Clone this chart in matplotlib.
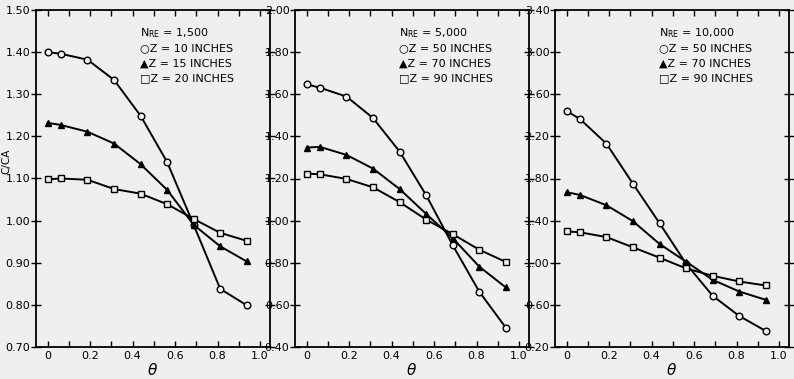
import numpy as np
import matplotlib
matplotlib.use('Agg')
import matplotlib.pyplot as plt

# Dimensionless angle positions of the measurements.
theta = [0, 0.0625, 0.1875, 0.3125, 0.4375, 0.5625, 0.6875, 0.8125, 0.9375]

# N_RE = 1,500
re1500_z10 = [1.400, 1.396, 1.382, 1.334, 1.249, 1.139, 0.990, 0.838, 0.799]
re1500_z15 = [1.232, 1.227, 1.211, 1.183, 1.134, 1.073, 0.990, 0.939, 0.903]
re1500_z20 = [1.098, 1.100, 1.097, 1.075, 1.064, 1.039, 1.004, 0.971, 0.952]

# N_RE = 5,000
re5000_z50 = [1.647, 1.631, 1.589, 1.487, 1.328, 1.121, 0.884, 0.663, 0.492]
re5000_z70 = [1.347, 1.350, 1.312, 1.247, 1.150, 1.032, 0.917, 0.782, 0.683]
re5000_z90 = [1.223, 1.220, 1.198, 1.158, 1.088, 1.005, 0.936, 0.862, 0.804]

# N_RE = 10,000
re10000_z50 = [2.441, 2.365, 2.130, 1.749, 1.375, 0.990, 0.686, 0.495, 0.352]
re10000_z70 = [1.670, 1.644, 1.546, 1.394, 1.178, 1.010, 0.838, 0.727, 0.648]
re10000_z90 = [1.298, 1.289, 1.244, 1.146, 1.048, 0.946, 0.876, 0.822, 0.784]

x_ticks = [0, 0.2, 0.4, 0.6, 0.8, 1.0]
x_ticklabels = ['0', '0.2', '0.4', '0.6', '0.8', '1.0']
x_minor = [0.1, 0.3, 0.5, 0.7, 0.9]

panels = [
    {'re': '1,500', 'z': ['10', '15', '20'],
     'series': [re1500_z10, re1500_z15, re1500_z20],
     'yticks': [0.70, 0.80, 0.90, 1.00, 1.10, 1.20, 1.30, 1.40, 1.50]},
    {'re': '5,000', 'z': ['50', '70', '90'],
     'series': [re5000_z50, re5000_z70, re5000_z90],
     'yticks': [0.40, 0.60, 0.80, 1.00, 1.20, 1.40, 1.60, 1.80, 2.00]},
    {'re': '10,000', 'z': ['50', '70', '90'],
     'series': [re10000_z50, re10000_z70, re10000_z90],
     'yticks': [0.20, 0.60, 1.00, 1.40, 1.80, 2.20, 2.60, 3.00, 3.40]},
]

bg = '#efefef'
markers = ['o', '^', 's']
fills = [bg, 'black', bg]
sizes = [4.8, 4.2, 4.4]
symbols = ['\u25cb', '\u25b2', '\u25a1']

fig = plt.figure(figsize=(7.94, 3.79), dpi=100, facecolor=bg)
lefts = [36, 295, 555]
for p, left in zip(panels, lefts):
    ax = fig.add_axes([left / 794, 32 / 379, 234 / 794, 337 / 379])
    ax.set_facecolor(bg)
    for y, m, fc, ms in zip(p['series'], markers, fills, sizes):
        ax.plot(theta, y, color='black', lw=1.4, marker=m, ms=ms,
                mfc=fc, mec='black', mew=1.0)
    ax.set_xlim(-0.055, 1.047)
    ax.set_ylim(p['yticks'][0], p['yticks'][-1])
    ax.set_xticks(x_ticks)
    ax.set_xticklabels(x_ticklabels)
    ax.set_xticks(x_minor, minor=True)
    ax.set_yticks(p['yticks'])
    ax.set_yticklabels(['%.2f' % v for v in p['yticks']],
                       family=['Liberation Sans Narrow', 'DejaVu Sans'])
    ax.tick_params(axis='x', which='both', direction='in', top=True,
                   length=4, width=1.0, labelsize=8, pad=3)
    ax.tick_params(axis='y', which='both', direction='inout', right=True,
                   length=7, width=1.0, labelsize=8, pad=0.5)
    for s in ax.spines.values():
        s.set_linewidth(1.3)
    ax.set_xlabel(r'$\theta$', fontsize=11)
    ax.xaxis.set_label_coords(0.5, -0.045)
    lines = ['N$_{\\mathregular{RE}}$ = ' + p['re']]
    for sym, z in zip(symbols, p['z']):
        lines.append(sym + 'Z = ' + z + ' INCHES')
    for i, t in enumerate(lines):
        ax.text(0.445, 0.932 - i * 0.045, t, transform=ax.transAxes,
                fontsize=8, va='center', ha='left',
                family=['DejaVu Sans'])

fig.text(0.002, 0.575, 'C/CA', rotation=90, fontsize=7.5, va='center')
fig.savefig('out.png', dpi=100, facecolor=bg)
